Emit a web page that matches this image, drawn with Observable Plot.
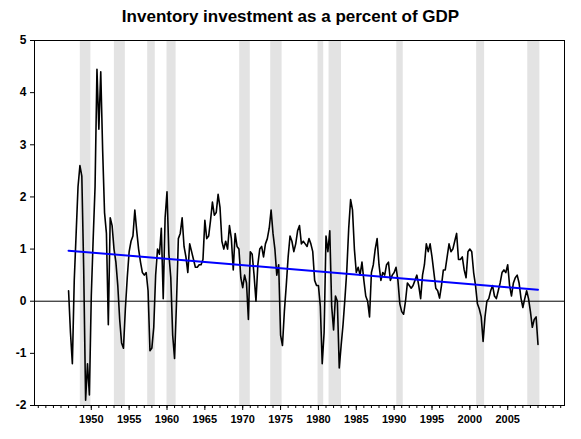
<!DOCTYPE html>
<html><head><meta charset="utf-8">
<script src="https://cdn.jsdelivr.net/npm/d3@7"></script>
<script src="https://cdn.jsdelivr.net/npm/@observablehq/plot@0.6"></script>
<style>
body{margin:0;background:#fff;}
#wrap{width:581px;height:439px;position:relative;font-family:"Liberation Sans",Arial,sans-serif;}
#title{height:30px;text-align:center;font-weight:bold;font-size:17px;line-height:18px;box-sizing:border-box;padding-top:8px;color:#000;}
</style>
</head><body>
<div id="wrap"><div id="title">Inventory investment as a percent of GDP</div><div id="chart"></div></div>
<script>
// quarterly series, 1947Q1 .. 2009Q1 (percent of GDP)
const startYear = 1947;
const values = [
  0.2, -0.6, -1.2, 0.4,
  1.3, 2.2, 2.6, 2.4,
  0.6, -1.9, -1.2, -1.8,
  0.1, 1.2, 2.2, 4.45,
  3.3, 4.4, 2.9, 1.7,
  1.3, -0.45, 1.6, 1.45,
  1.0, 0.75, 0.3, -0.35,
  -0.8, -0.9, -0.15, 0.45,
  0.95, 1.15, 1.25, 1.75,
  1.35, 1.0, 0.75, 0.55,
  0.5, 0.55, 0.2, -0.95,
  -0.9, -0.5, 0.5, 1.0,
  0.9, 1.4, 0.05, 1.6,
  2.1, 0.9, 0.45, -0.65,
  -1.1, -0.05, 1.2, 1.3,
  1.6, 1.05, 0.85, 0.55,
  1.1, 0.95, 0.8, 0.65,
  0.65, 0.7, 0.7, 0.8,
  1.55, 1.2, 1.25, 1.55,
  1.9, 1.65, 1.7, 2.05,
  1.8, 1.15, 1.0, 1.15,
  1.0, 1.45, 1.2, 0.6,
  1.3, 1.05, 1.0, 0.45,
  0.26, 0.5, 0.35, -0.35,
  0.95, 0.9, 0.5, 0.0,
  0.7, 1.0, 1.05, 0.85,
  1.1, 1.2, 1.4, 1.75,
  1.3, 1.0, 0.5, 0.7,
  -0.65, -0.85, -0.2, 0.3,
  0.85, 1.25, 1.15, 0.95,
  1.1, 1.35, 1.45, 1.1,
  1.15, 1.1, 1.05, 1.2,
  1.1, 0.95, 0.4, 0.3,
  0.3, -0.1, -1.2, -0.6,
  1.25, 0.95, 1.35, -0.1,
  -0.55, 0.1, 0.0, -1.28,
  -0.85, -0.45, 0.05, 0.6,
  1.4, 1.95, 1.75, 1.0,
  0.55, 0.65, 0.5, 0.75,
  0.4, 0.1, 0.0, -0.3,
  0.55, 0.7, 1.0, 1.2,
  0.7, 0.4, 0.55, 0.5,
  0.7, 0.75, 0.4, 0.5,
  0.55, 0.65, 0.4, -0.05,
  -0.2, -0.25, 0.0, 0.35,
  0.3, 0.25, 0.3, 0.4,
  0.5, 0.3, 0.05, 0.5,
  0.7, 1.1, 0.95, 1.1,
  0.85, 0.55, 0.25, 0.2,
  0.06, 0.3, 0.6, 0.6,
  0.85, 1.1, 0.95, 1.0,
  1.15, 1.3, 0.8, 0.8,
  0.85, 0.6, 0.45, 0.95,
  1.0, 0.95, 0.55, 0.3,
  -0.05, -0.15, -0.3, -0.77,
  -0.3, 0.0, 0.05, 0.2,
  0.3, 0.1, 0.05, 0.2,
  0.35, 0.55, 0.6, 0.55,
  0.7, 0.3, 0.1, 0.35,
  0.45, 0.5, 0.35, 0.06,
  -0.12, 0.05, 0.2, 0.05,
  -0.2, -0.5, -0.35, -0.3,
  -0.83
];
// recession shading (decimal years)
const recessionStarts = [1948.55, 1953.05, 1957.45, 1960.0, 1969.6, 1973.7, 1979.95, 1981.4, 1990.35, 2000.9, 2007.65];
const recessionEnds   = [1949.95, 1954.5, 1958.45, 1961.2, 1971.0, 1975.2, 1980.7, 1983.05, 1991.2, 2001.95, 2009.25];
// linear trend endpoints
const trendYears  = [1947, 2009];
const trendValues = [0.97, 0.22];
// axes
const xTicks = [1950, 1955, 1960, 1965, 1970, 1975, 1980, 1985, 1990, 1995, 2000, 2005];
const xMinorTicks = [1943,1944,1945,1946,1947,1948,1949,1950,1951,1952,1953,1954,1955,1956,1957,1958,1959,1960,1961,1962,1963,1964,1965,1966,1967,1968,1969,1970,1971,1972,1973,1974,1975,1976,1977,1978,1979,1980,1981,1982,1983,1984,1985,1986,1987,1988,1989,1990,1991,1992,1993,1994,1995,1996,1997,1998,1999,2000,2001,2002,2003,2004,2005,2006,2007,2008,2009,2010,2011,2012];
const yTicks = [-2, -1, 0, 1, 2, 3, 4, 5];

const series = values.map((v, i) => ({t: startYear + i / 4, v}));
const recessions = recessionStarts.map((s, i) => ({s, e: recessionEnds[i]}));
const trend = trendYears.map((t, i) => ({t, v: trendValues[i]}));

const chart = Plot.plot({
  width: 581,
  height: 409,
  marginTop: 10,
  marginBottom: 34,
  marginLeft: 34,
  marginRight: 17,
  style: {fontFamily: "'Liberation Sans', Arial, sans-serif", background: "#fff", color: "#000"},
  x: {domain: [1942.5, 2012.5], label: null},
  y: {domain: [-2, 5], label: null},
  marks: [
    Plot.rect(recessions, {x1: "s", x2: "e", fill: "#e3e3e3"}),
    Plot.ruleY([0], {stroke: "#000", strokeWidth: 1}),
    Plot.line(series, {x: "t", y: "v", stroke: "#000", strokeWidth: 1.6}),
    Plot.line(trend, {x: "t", y: "v", stroke: "#0000ff", strokeWidth: 2}),
    Plot.frame({stroke: "#000"}),
    Plot.axisX({ticks: xMinorTicks, tickSize: 3, tickFormat: () => "", label: null}),
    Plot.axisX({ticks: xTicks, tickSize: 5, tickPadding: 5, tickFormat: d => String(d), fontSize: 11, fontWeight: "bold", label: null}),
    Plot.axisY({ticks: yTicks, tickSize: 4, tickPadding: 4, tickFormat: d => String(d), fontSize: 12, fontWeight: "bold", label: null})
  ]
});
document.getElementById("chart").appendChild(chart);
</script>
</body></html>
